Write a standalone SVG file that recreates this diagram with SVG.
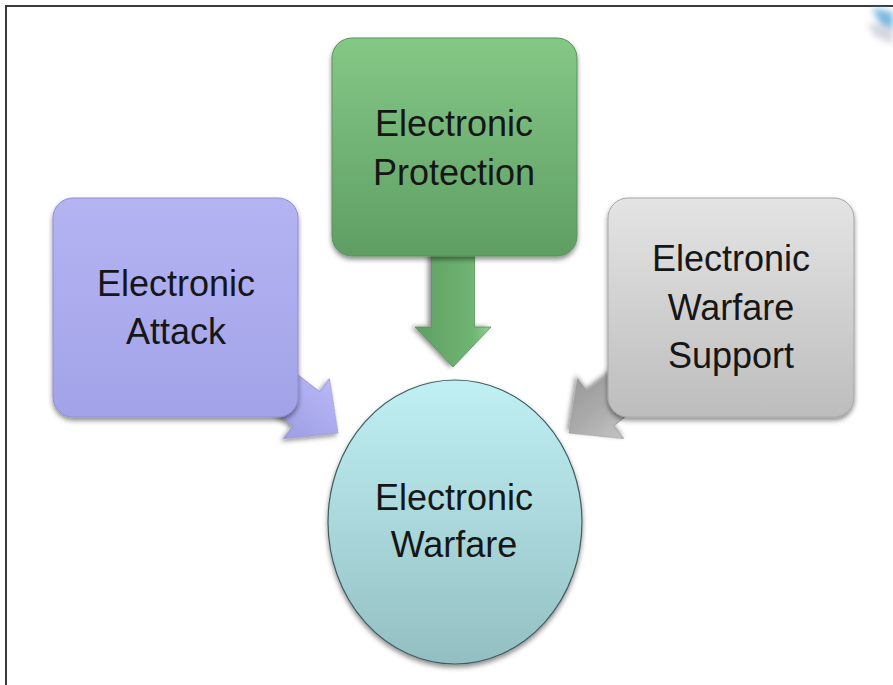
<svg xmlns="http://www.w3.org/2000/svg" width="893" height="685" viewBox="0 0 893 685">
  <style>
    .lbl { font-family: "Liberation Sans", Arial, sans-serif; font-size: 36px; fill: #161616; text-anchor: middle; }
    .box { stroke-width: 1; }
  </style>
  <defs>
    <filter id="shadow" x="-10%" y="-10%" width="125%" height="125%">
      <feDropShadow dx="0" dy="3" stdDeviation="2.5" flood-color="#000" flood-opacity="0.45"/>
    </filter>
    <filter id="blur" x="-50%" y="-50%" width="200%" height="200%">
      <feGaussianBlur stdDeviation="3"/>
    </filter>
    <linearGradient id="gPurple" x1="0" y1="0" x2="0" y2="1">
      <stop offset="0" stop-color="#b4b4f3"/>
      <stop offset="1" stop-color="#a2a2e8"/>
    </linearGradient>
    <linearGradient id="gGreen" x1="0" y1="0" x2="0" y2="1">
      <stop offset="0" stop-color="#84c886"/>
      <stop offset="1" stop-color="#5f9e63"/>
    </linearGradient>
    <linearGradient id="gGray" x1="0" y1="0" x2="0" y2="1">
      <stop offset="0" stop-color="#e4e4e4"/>
      <stop offset="1" stop-color="#bdbdbd"/>
    </linearGradient>
    <linearGradient id="gCyan" x1="0" y1="0" x2="0" y2="1">
      <stop offset="0" stop-color="#c0f0f4"/>
      <stop offset="1" stop-color="#93bfc2"/>
    </linearGradient>
    <linearGradient id="aPurple" x1="0" y1="0" x2="0" y2="1">
      <stop offset="0" stop-color="#b9b9f6"/>
      <stop offset="0.5" stop-color="#aaaaee"/>
      <stop offset="1" stop-color="#9d9de2"/>
    </linearGradient>
    <linearGradient id="aGreen" x1="0" y1="0" x2="0" y2="1">
      <stop offset="0" stop-color="#8fd191"/>
      <stop offset="0.25" stop-color="#6fb472"/>
      <stop offset="1" stop-color="#5f9f63"/>
    </linearGradient>
    <linearGradient id="aGray" x1="0" y1="0" x2="0" y2="1">
      <stop offset="0" stop-color="#c4c4c4"/>
      <stop offset="0.5" stop-color="#ababab"/>
      <stop offset="1" stop-color="#9a9a9a"/>
    </linearGradient>
    <polygon id="arrowShape" points="0,0 -40,-38 -40,-21.5 -125,-21.5 -125,21.5 -40,21.5 -40,38"/>
  </defs>

  <rect x="0" y="0" width="893" height="685" fill="#ffffff"/>

  <!-- frame -->
  <path d="M6,685 V6 H893" fill="none" stroke="#3a3a3a" stroke-width="2"/>

  <!-- top-right decoration fragment -->
  <g filter="url(#blur)" opacity="0.8">
    <path d="M872,8 L893,12 L893,30 L880,24 Z" fill="#5aa9d6"/>
    <path d="M868,22 L893,30 L893,44 L874,36 Z" fill="#c9ccd6"/>
  </g>

  <!-- connectors -->
  <g id="connectors">
    <use href="#arrowShape" fill="url(#aGreen)" stroke="#5a935d" stroke-width="0.8" transform="translate(453,367) rotate(90)" filter="url(#shadow)"/>
    <use href="#arrowShape" fill="url(#aPurple)" stroke="#9090d0" stroke-width="0.8" transform="translate(338,433) rotate(37.6)" filter="url(#shadow)"/>
    <use href="#arrowShape" fill="url(#aGray)" stroke="#959595" stroke-width="0.8" transform="translate(569,433) rotate(142.4)" filter="url(#shadow)"/>
  </g>

  <g id="node-attack">
    <rect class="box" x="53" y="198" width="245" height="219" rx="20" fill="url(#gPurple)" stroke="#8f8fcf" filter="url(#shadow)"/>
    <text class="lbl" x="176" y="296">Electronic</text>
    <text class="lbl" x="176" y="344">Attack</text>
  </g>

  <g id="node-protection">
    <rect class="box" x="332" y="38" width="245" height="218" rx="20" fill="url(#gGreen)" stroke="#5a935d" filter="url(#shadow)"/>
    <text class="lbl" x="454" y="136">Electronic</text>
    <text class="lbl" x="454" y="185">Protection</text>
  </g>

  <g id="node-support">
    <rect class="box" x="608" y="198" width="246" height="219" rx="20" fill="url(#gGray)" stroke="#a5a5a5" filter="url(#shadow)"/>
    <text class="lbl" x="731" y="271">Electronic</text>
    <text class="lbl" x="731" y="320">Warfare</text>
    <text class="lbl" x="731" y="368">Support</text>
  </g>

  <g id="node-warfare">
    <ellipse cx="455" cy="522" rx="127" ry="142" fill="url(#gCyan)" stroke="#3f5c5e" stroke-width="1.2" filter="url(#shadow)"/>
    <text class="lbl" x="454" y="510">Electronic</text>
    <text class="lbl" x="454" y="557">Warfare</text>
  </g>
</svg>
